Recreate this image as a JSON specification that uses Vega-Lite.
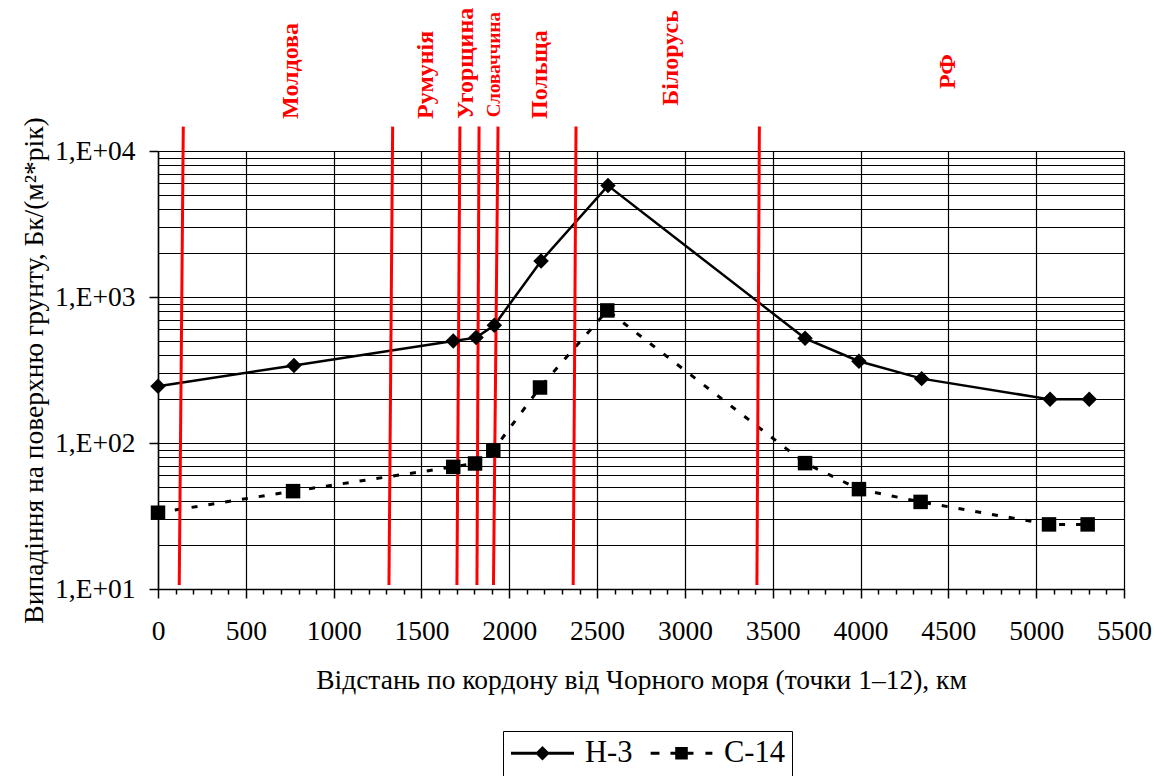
{
  "$schema": "https://vega.github.io/schema/vega-lite/v6.json",
  "width": 966,
  "height": 438,
  "autosize": {"type": "none"},
  "padding": {"left": 158, "top": 151, "right": 42, "bottom": 187},
  "background": "white",
  "config": {
    "font": "Liberation Serif",
    "view": {"stroke": null},
    "axis": {
      "domainColor": "black",
      "tickColor": "black",
      "gridColor": "black",
      "labelColor": "black",
      "titleColor": "black",
      "labelFont": "Liberation Serif",
      "titleFont": "Liberation Serif",
      "titleFontWeight": "normal"
    },
    "legend": {
      "orient": "none",
      "legendX": 345,
      "legendY": 580,
      "direction": "horizontal",
      "strokeColor": "black",
      "strokeWidth": 1,
      "fillColor": "white",
      "padding": 7,
      "clipHeight": 30,
      "columnPadding": 16,
      "labelFont": "Liberation Serif",
      "labelFontSize": 30.5,
      "labelColor": "black",
      "labelOffset": 10,
      "symbolSize": 3969,
      "symbolStrokeWidth": 2,
      "symbolFillColor": "black",
      "symbolStrokeColor": "black",
      "symbolOpacity": 1
    }
  },
  "datasets": {
    "series": [
      {"series": "H-3", "x": 0, "value": 245},
      {"series": "H-3", "x": 774, "value": 340},
      {"series": "H-3", "x": 1681, "value": 499},
      {"series": "H-3", "x": 1811, "value": 527},
      {"series": "H-3", "x": 1915, "value": 640},
      {"series": "H-3", "x": 2181, "value": 1765},
      {"series": "H-3", "x": 2562, "value": 5795},
      {"series": "H-3", "x": 3684, "value": 521},
      {"series": "H-3", "x": 3991, "value": 363},
      {"series": "H-3", "x": 4348, "value": 276},
      {"series": "H-3", "x": 5079, "value": 199},
      {"series": "H-3", "x": 5302, "value": 199},
      {"series": "C-14", "x": 0, "value": 33.3},
      {"series": "C-14", "x": 769, "value": 46.8},
      {"series": "C-14", "x": 1681, "value": 68.6},
      {"series": "C-14", "x": 1805, "value": 72.4},
      {"series": "C-14", "x": 1909, "value": 89.3},
      {"series": "C-14", "x": 2175, "value": 240},
      {"series": "C-14", "x": 2558, "value": 809},
      {"series": "C-14", "x": 3684, "value": 72.8},
      {"series": "C-14", "x": 3991, "value": 48.3},
      {"series": "C-14", "x": 4342, "value": 39.5},
      {"series": "C-14", "x": 5073, "value": 27.7},
      {"series": "C-14", "x": 5293, "value": 27.7}
    ],
    "borders": [
      {"x": 144, "x2": 121, "value": 14690, "value2": 10.65},
      {"x": 1336, "x2": 1315, "value": 14690, "value2": 10.65},
      {"x": 1719, "x2": 1702, "value": 14690, "value2": 10.65},
      {"x": 1828, "x2": 1816, "value": 14690, "value2": 10.65},
      {"x": 1936, "x2": 1910, "value": 14690, "value2": 10.65},
      {"x": 2380, "x2": 2364, "value": 14690, "value2": 10.65},
      {"x": 3424, "x2": 3410, "value": 14690, "value2": 10.65}
    ],
    "countries": [
      {"name": "Молдова", "x": 757, "value": 16580},
      {"name": "Румунія", "x": 1526, "value": 16580},
      {"name": "Угорщина", "x": 1754, "value": 16580},
      {"name": "Словаччина", "x": 1913, "value": 17000},
      {"name": "Польща", "x": 2175, "value": 16580},
      {"name": "Білорусь", "x": 2921, "value": 20440},
      {"name": "РФ", "x": 4498, "value": 26600}
    ]
  },
  "encoding": {
    "x": {
      "field": "x",
      "type": "quantitative",
      "scale": {"domain": [0, 5500], "nice": false, "zero": false},
      "axis": {
        "values": [0,100,200,300,400,500,600,700,800,900,1000,1100,1200,1300,1400,1500,1600,1700,1800,1900,2000,2100,2200,2300,2400,2500,2600,2700,2800,2900,3000,3100,3200,3300,3400,3500,3600,3700,3800,3900,4000,4100,4200,4300,4400,4500,4600,4700,4800,4900,5000,5100,5200,5300,5400,5500],
        "format": "d",
        "labelExpr": "datum.value % 500 === 0 ? datum.label : ''",
        "labelOverlap": false,
        "labelFlush": false,
        "labelFontSize": 27.5,
        "labelPadding": 19,
        "tickSize": {"condition": {"test": "datum.value % 500 === 0", "value": 9}, "value": 5},
        "tickWidth": 1.5,
        "grid": true,
        "gridWidth": 1.2,
        "gridOpacity": {"condition": {"test": "datum.value % 500 === 0", "value": 1}, "value": 0},
        "domainWidth": 1.5,
        "title": "Відстань по кордону від Чорного моря (точки 1–12), км",
        "titleFontSize": 27.5,
        "titlePadding": 22
      }
    },
    "y": {
      "field": "value",
      "type": "quantitative",
      "scale": {"type": "log", "domain": [10, 10000], "nice": false},
      "axis": {
        "values": [10,20,30,40,50,60,70,80,90,100,200,300,400,500,600,700,800,900,1000,2000,3000,4000,5000,6000,7000,8000,9000,10000],
        "labelExpr": "abs(log(datum.value)/LN10 - round(log(datum.value)/LN10)) < 0.001 ? '1,E+0' + round(log(datum.value)/LN10) : ''",
        "labelOverlap": false,
        "labelFontSize": 27.5,
        "labelPadding": 14,
        "tickSize": 9,
        "tickWidth": 1.5,
        "tickOpacity": {"condition": {"test": "abs(log(datum.value)/LN10 - round(log(datum.value)/LN10)) < 0.001", "value": 1}, "value": 0},
        "grid": true,
        "gridWidth": 1.2,
        "domainWidth": 1.5,
        "title": "Випадіння на поверхню грунту, Бк/(м²*рік)",
        "titleFontSize": 27.5,
        "titlePadding": 6
      }
    }
  },
  "layer": [
    {
      "data": {"name": "series"},
      "transform": [{"filter": "datum.series === 'H-3'"}],
      "mark": {"type": "line", "color": "black", "strokeWidth": 2.5}
    },
    {
      "data": {"name": "series"},
      "transform": [{"filter": "datum.series === 'C-14'"}],
      "mark": {"type": "line", "color": "black", "strokeWidth": 3, "strokeDash": [6, 11]}
    },
    {
      "data": {"name": "borders"},
      "mark": {"type": "rule", "color": "#FF0000", "strokeWidth": 3},
      "encoding": {
        "x2": {"field": "x2"},
        "y2": {"field": "value2"}
      }
    },
    {
      "data": {"name": "series"},
      "transform": [{"filter": "datum.series === 'H-3'"}],
      "mark": {"type": "point", "shape": "diamond", "filled": true, "color": "black", "size": 240, "opacity": 1}
    },
    {
      "data": {"name": "series"},
      "transform": [{"filter": "datum.series === 'C-14'"}],
      "mark": {"type": "point", "shape": "square", "filled": true, "color": "black", "size": 210, "opacity": 1}
    },
    {
      "data": {"name": "series"},
      "mark": {"type": "point", "filled": true, "color": "black", "opacity": 0},
      "encoding": {
        "shape": {
          "field": "series",
          "type": "nominal",
          "scale": {
            "domain": ["H-3", "C-14"],
            "range": [
              "M-1,-0.045H1V0.045H-1Z M-0.23,0L0,-0.23L0.23,0L0,0.23Z",
              "M-0.98,-0.05H-0.7V0.05H-0.98Z M-0.35,-0.05H0.38V0.05H-0.35Z M-0.2,-0.2H0.2V0.2H-0.2Z M0.76,-0.05H0.98V0.05H0.76Z"
            ]
          },
          "legend": {"title": null}
        }
      }
    },
    {
      "data": {"name": "countries"},
      "transform": [{"filter": "datum.name !== 'Словаччина'"}],
      "mark": {"type": "text", "angle": 270, "align": "left", "baseline": "middle", "font": "Liberation Serif", "fontWeight": "bold", "fontSize": 24, "color": "#FF0000"},
      "encoding": {
        "text": {"field": "name"}
      }
    },
    {
      "data": {"name": "countries"},
      "transform": [{"filter": "datum.name === 'Словаччина'"}],
      "mark": {"type": "text", "angle": 270, "align": "left", "baseline": "middle", "font": "Liberation Serif", "fontWeight": "bold", "fontSize": 19, "color": "#FF0000"},
      "encoding": {
        "text": {"field": "name"}
      }
    }
  ]
}
